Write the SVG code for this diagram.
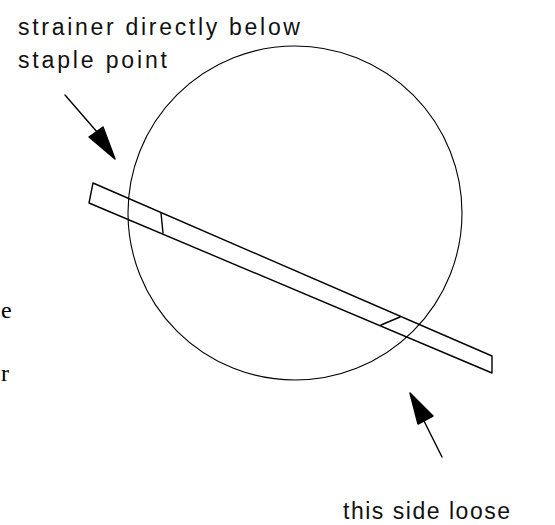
<svg xmlns="http://www.w3.org/2000/svg" width="555" height="525" viewBox="0 0 555 525">
<style>
.ln{fill:none;stroke:#000;stroke-width:1.4;stroke-linejoin:round;stroke-linecap:round}
.thin{fill:none;stroke:#000;stroke-width:1.1}
.lbl{font-family:"Liberation Sans",Arial,sans-serif;font-size:23px;fill:#111}
.ser{font-family:"Liberation Serif","Times New Roman",serif;font-size:24px;fill:#000}
</style>
<rect width="555" height="525" fill="#fff"/>
<g id="circle"><circle class="thin" cx="295" cy="213" r="167"/></g>
<g id="bar">
<path class="ln" d="M93,183 L492,356 L492,373 L89,203 Z"/>
<path class="ln" d="M161,213 L163,233"/>
<path class="ln" d="M400,317 L381,325"/>
</g>
<g id="connectors">
<path class="ln" d="M65,95 L104,140"/>
<path d="M115,159 L89,137 L103,127 Z" fill="#000" stroke="#000" stroke-width="1.5" stroke-linejoin="round"/>
<path class="ln" d="M442,457 L421,415"/>
<path d="M410,393 L433,416 L418,424 Z" fill="#000" stroke="#000" stroke-width="1.5" stroke-linejoin="round"/>
</g>
<g id="label-top">
<text class="lbl" x="18" y="35" textLength="282" lengthAdjust="spacing">strainer directly below</text>
<text class="lbl" x="18" y="68" textLength="149" lengthAdjust="spacing">staple point</text>
</g>
<g id="label-bottom">
<text class="lbl" x="343" y="519" font-size="21" textLength="167" lengthAdjust="spacing" fill="#444">this side loose</text>
</g>
<g id="cut-text">
<text class="ser" x="1" y="318">e</text>
<text class="ser" x="1" y="381">r</text>
</g>
</svg>
